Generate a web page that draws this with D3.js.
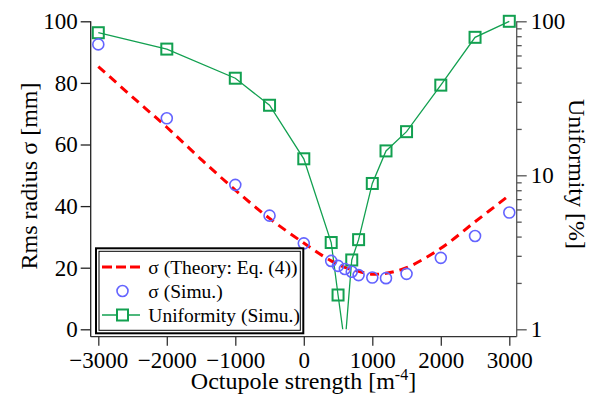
<!DOCTYPE html>
<html>
<head>
<meta charset="utf-8">
<script src="https://cdn.jsdelivr.net/npm/d3@7"></script>
<style>
  body { margin: 0; background: #fff; }
</style>
</head>
<body>
<div class="canvas"></div>
<script>
// Data
const xSim = [-3000, -2000, -1000, -500, 0, 400, 500, 600, 700, 800, 1000, 1200, 1500, 2000, 2500, 3000];
const sigmaSim = [92.5, 68.5, 46.9, 36.9, 27.9, 22.2, 20.6, 19.6, 18.7, 17.6, 16.8, 16.6, 18.0, 23.2, 30.3, 37.9];
const uniformitySim = [84.3, 66, 42.7, 28.5, 12.8, 3.66, 1.67, 0.79, 2.82, 3.82, 8.85, 14.4, 19.2, 38.5, 78.7, 100];
const xTheory = [-3000, -2500, -2000, -1500, -1000, -500, 0, 400, 600, 800, 1000, 1200, 1500, 2000, 2500, 3000];
const sigmaTheory = [85.3, 75.4, 65.6, 55.2, 45.2, 36.0, 28.0, 22.2, 20.1, 18.8, 17.9, 18.2, 20.0, 26.3, 34.9, 43.5];

const xTicks = [-3000, -2000, -1000, 0, 1000, 2000, 3000];
const leftTicks = [0, 20, 40, 60, 80, 100];
const rightTicks = [1, 10, 100];
const rightMinor = [2, 3, 4, 5, 6, 7, 8, 9, 20, 30, 40, 50, 60, 70, 80, 90];

const legendItems = ["σ (Theory: Eq. (4))", "σ (Simu.)", "Uniformity (Simu.)"];

const dims = { width: 608, height: 399 };
const plot = { left: 98.3, right: 509.3, top: 21.3, bottom: 329.3 };
const axisPos = { left: 90.7, right: 516.7, bottom: 336.7 };
const serif = "Liberation Serif";

const colours = { theory: "#ff0000", sim: "#6464ff", unif: "#12a050" };

const svg = d3
  .select(".canvas")
  .append("svg")
  .attr("width", dims.width)
  .attr("height", dims.height)
  .attr("font-family", serif);

// Scales
const x = d3.scaleLinear().domain([-3000, 3000]).range([plot.left, plot.right]);
const yL = d3.scaleLinear().domain([0, 100]).range([plot.bottom, plot.top]);
const yR = d3.scaleLog().domain([1, 100]).range([plot.bottom, plot.top]);

// Clip paths
const defs = svg.append("defs");
defs.append("clipPath").attr("id", "clipLines")
  .append("rect")
  .attr("x", axisPos.left).attr("y", 0)
  .attr("width", axisPos.right - axisPos.left).attr("height", plot.bottom);
defs.append("clipPath").attr("id", "clipMarks")
  .append("rect")
  .attr("x", 0).attr("y", 0)
  .attr("width", dims.width).attr("height", axisPos.bottom - 1);

// Axes
const styleAxis = (g, colour) => {
  g.attr("font-family", serif).attr("font-size", 23);
  g.select(".domain").remove();
  g.selectAll(".tick line").attr("stroke", colour).attr("stroke-width", 1.3);
  g.selectAll(".tick text").attr("fill", "#000");
};

const xAxis = svg.append("g")
  .attr("transform", `translate(0,${axisPos.bottom})`)
  .call(d3.axisBottom(x).tickValues(xTicks).tickSize(9).tickPadding(6).tickFormat(d3.format("d")));
styleAxis(xAxis, "#333");

const leftAxis = svg.append("g")
  .attr("transform", `translate(${axisPos.left},0)`)
  .call(d3.axisLeft(yL).tickValues(leftTicks).tickSize(10).tickPadding(3));
styleAxis(leftAxis, "#222");

const rightMinorAxis = svg.append("g")
  .attr("transform", `translate(${axisPos.right},0)`)
  .call(d3.axisRight(yR).tickValues(rightMinor).tickSize(5).tickFormat(""));
styleAxis(rightMinorAxis, "#555");

const rightAxis = svg.append("g")
  .attr("transform", `translate(${axisPos.right},0)`)
  .call(d3.axisRight(yR).tickValues(rightTicks).tickSize(10).tickPadding(4).tickFormat(d3.format("d")));
styleAxis(rightAxis, "#555");

// Axis lines with standoff
svg.append("line")
  .attr("x1", axisPos.left).attr("x2", axisPos.left)
  .attr("y1", plot.top).attr("y2", axisPos.bottom)
  .attr("stroke", "#222").attr("stroke-width", 1.3);
svg.append("line")
  .attr("x1", axisPos.left).attr("x2", axisPos.right)
  .attr("y1", axisPos.bottom).attr("y2", axisPos.bottom)
  .attr("stroke", "#333").attr("stroke-width", 1.3);
svg.append("line")
  .attr("x1", axisPos.right).attr("x2", axisPos.right)
  .attr("y1", plot.top).attr("y2", axisPos.bottom)
  .attr("stroke", "#555").attr("stroke-width", 1.3);

// Axis titles
svg.append("text")
  .attr("transform", `translate(36.5,176) rotate(-90)`)
  .attr("text-anchor", "middle")
  .attr("font-family", serif)
  .attr("font-size", 24)
  .text("Rms radius σ [mm]");

svg.append("text")
  .attr("transform", `translate(568.5,174) rotate(90)`)
  .attr("text-anchor", "middle")
  .attr("font-family", serif)
  .attr("font-size", 24)
  .text("Uniformity [%]");

const xTitle = svg.append("text")
  .attr("x", 303.5).attr("y", 389)
  .attr("text-anchor", "middle")
  .attr("font-family", serif)
  .attr("font-size", 24);
xTitle.append("tspan").text("Octupole strength [m");
xTitle.append("tspan").attr("font-size", 16).attr("dy", -9).text("-4");
xTitle.append("tspan").attr("dy", 9).text("]");

// Series
const uniData = xSim.map((d, i) => ({ x: d, y: uniformitySim[i] }));
const simData = xSim.map((d, i) => ({ x: d, y: sigmaSim[i] }));
const theoryData = xTheory.map((d, i) => ({ x: d, y: sigmaTheory[i] }));

const uniLine = d3.line().x((d) => x(d.x)).y((d) => yR(d.y));
const theoryLine = d3.line().x((d) => x(d.x)).y((d) => yL(d.y)).curve(d3.curveCatmullRom);

const lines = svg.append("g").attr("clip-path", "url(#clipLines)");
lines.append("path")
  .datum(uniData)
  .attr("d", uniLine)
  .attr("fill", "none")
  .attr("stroke", colours.unif)
  .attr("stroke-width", 1.3);

lines.append("path")
  .datum(theoryData)
  .attr("d", theoryLine)
  .attr("fill", "none")
  .attr("stroke", colours.theory)
  .attr("stroke-width", 3)
  .attr("stroke-dasharray", "9,6");

const marks = svg.append("g").attr("clip-path", "url(#clipMarks)");
const sq = 11;
marks.selectAll("rect.unif")
  .data(uniData)
  .enter()
  .append("rect")
  .attr("class", "unif")
  .attr("x", (d) => x(d.x) - sq / 2)
  .attr("y", (d) => yR(d.y) - sq / 2)
  .attr("width", sq).attr("height", sq)
  .attr("fill", "none")
  .attr("stroke", colours.unif)
  .attr("stroke-width", 2);

marks.selectAll("circle.sim")
  .data(simData)
  .enter()
  .append("circle")
  .attr("class", "sim")
  .attr("cx", (d) => x(d.x))
  .attr("cy", (d) => yL(d.y))
  .attr("r", 5.5)
  .attr("fill", "none")
  .attr("stroke", colours.sim)
  .attr("stroke-width", 1.6);

// Legend
const lg = { x: 96, y: 248.3, w: 207.3, h: 85, rowY: [267, 291, 315] };
const legend = svg.append("g");
legend.append("rect")
  .attr("x", lg.x).attr("y", lg.y).attr("width", lg.w).attr("height", lg.h)
  .attr("fill", "#fff").attr("stroke", "#000").attr("stroke-width", 2);
legend.append("rect")
  .attr("x", lg.x + 3).attr("y", lg.y + 3).attr("width", lg.w - 6).attr("height", lg.h - 6)
  .attr("fill", "none").attr("stroke", "#000").attr("stroke-width", 1);

legend.append("line")
  .attr("x1", 102).attr("x2", 140)
  .attr("y1", lg.rowY[0]).attr("y2", lg.rowY[0])
  .attr("stroke", colours.theory).attr("stroke-width", 3).attr("stroke-dasharray", "10,4");
legend.append("circle")
  .attr("cx", 122.5).attr("cy", lg.rowY[1]).attr("r", 5.5)
  .attr("fill", "none").attr("stroke", colours.sim).attr("stroke-width", 1.6);
legend.append("line")
  .attr("x1", 102).attr("x2", 140)
  .attr("y1", lg.rowY[2]).attr("y2", lg.rowY[2])
  .attr("stroke", colours.unif).attr("stroke-width", 1.3);
legend.append("rect")
  .attr("x", 122.5 - sq / 2).attr("y", lg.rowY[2] - sq / 2).attr("width", sq).attr("height", sq)
  .attr("fill", "#fff").attr("stroke", colours.unif).attr("stroke-width", 2);

legend.selectAll("text.item")
  .data(legendItems)
  .enter()
  .append("text")
  .attr("class", "item")
  .attr("x", 148.3)
  .attr("y", (d, i) => lg.rowY[i] + 6.5)
  .attr("font-family", serif)
  .attr("font-size", 19.5)
  .text((d) => d);
</script>
</body>
</html>
